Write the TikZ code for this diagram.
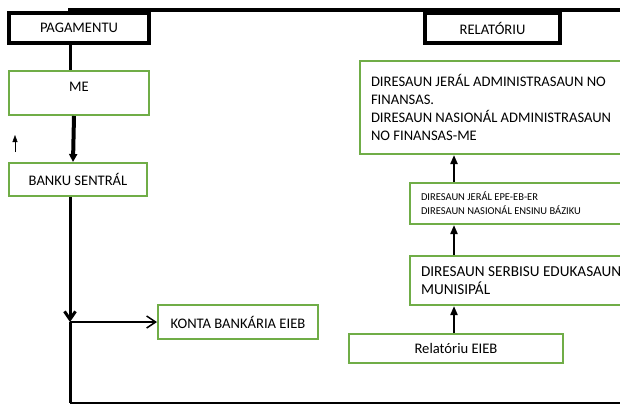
\documentclass[tikz,border=0pt]{standalone}
\usepackage{fontspec}
\setmainfont{Carlito}
\usetikzlibrary{arrows.meta}

\definecolor{boxgreen}{RGB}{112,173,71}

\newcommand{\boxfont}[2]{\fontsize{#1}{#2}\selectfont}

\tikzset{
	titlebox/.style={draw=black, line width=3.5pt, minimum width=140pt, minimum height=30pt,
		inner sep=0pt, font=\boxfont{14.6}{18}},
	greenbox/.style={draw=boxgreen, line width=2pt, inner sep=0pt, font=\boxfont{14.6}{18}},
	leftbox/.style={greenbox, anchor=north west, align=left, inner xsep=11pt, text width=244pt,
		execute at begin node={\spaceskip=0pt\xspaceskip=0pt\relax}},
	framestroke/.style={line width=3pt},
	upflow/.style={line width=2pt, -{Triangle[length=9pt,width=7pt]}},
}

\begin{document}
\begin{tikzpicture}[x=1pt,y=-1pt]
	\useasboundingbox (0,0) rectangle (620,405);
	\clip (0,0) rectangle (620,405);

	% pagamentu side
	\node[titlebox] (pag) at (79,28) {PAGAMENTU};
	\node[greenbox, minimum width=140pt, minimum height=44pt, text depth=12pt] (me) at (79,93) {ME};
	\node[greenbox, minimum width=138pt, minimum height=33pt] (banku) at (78,179.5) {BANKU SENTRÁL};
	\node[greenbox, minimum width=160pt, minimum height=34pt] (konta) at (238,322) {KONTA BANKÁRIA EIEB};

	% relatoriu side
	\node[titlebox, minimum width=135pt] (rel) at (492.5,28) {RELATÓRIU};
	\node[leftbox, minimum height=93pt] (dgaf) at (359,60)
		{DIRESAUN JERÁL ADMINISTRASAUN NO\\ FINANSAS.\\ DIRESAUN NASIONÁL ADMINISTRASAUN\\ NO FINANSAS-ME};
	\node[leftbox, minimum height=41pt, font=\boxfont{10.5}{14}] (depe) at (409,182)
		{DIRESAUN JERÁL EPE-EB-ER\\ DIRESAUN NASIONÁL ENSINU BÁZIKU};
	\node[leftbox, minimum height=49pt, font=\boxfont{15.2}{18}] (dsem) at (409,255)
		{DIRESAUN SERBISU EDUKASAUN\\ MUNISIPÁL};
	\node[greenbox, minimum width=214pt, minimum height=29pt] (reieb) at (456,348.5) {Relatóriu EIEB};

	% frame
	\coordinate (topleft) at (68,10);
	\coordinate (topright) at (625,10);
	\coordinate (split) at (70,322);
	\coordinate (botleft) at (70,403);
	\coordinate (botright) at (625,403);
	\draw[line width=4pt] (topleft) -- (topright);
	\draw[framestroke] ([xshift=-9pt]pag.south) -- ([xshift=-9pt]me.north);
	\draw[line width=4pt, -{Triangle[length=8pt,width=8pt]}] ([xshift=-5pt]me.south) -- ([xshift=-5pt]banku.north);
	\draw[framestroke, -{Straight Barb[length=8pt,width=11pt]}] ([xshift=-8pt]banku.south) -- (split);
	\draw[framestroke] (split) -- (botleft);
	\draw[line width=2pt] (botleft) -- (botright);
	\draw[line width=1.5pt, -{Straight Barb[length=9pt,width=12pt]}] (split) -- (konta.west);

	% stray mark
	\coordinate (markfoot) at (15,152);
	\coordinate (markhead) at (15,135);
	\draw[line width=0.5pt, -{Triangle[length=7pt,width=5pt]}] (markfoot) -- (markhead);

	% report chain
	\draw[upflow] ([xshift=-2pt]reieb.north) -- ([xshift=-2pt]reieb.north |- dsem.south);
	\draw[upflow] ([xshift=-2pt]reieb.north |- dsem.north) -- ([xshift=-2pt]reieb.north |- depe.south);
	\draw[upflow] ([xshift=-2pt]reieb.north |- depe.north) -- ([xshift=-2pt]reieb.north |- dgaf.south);
\end{tikzpicture}
\end{document}
